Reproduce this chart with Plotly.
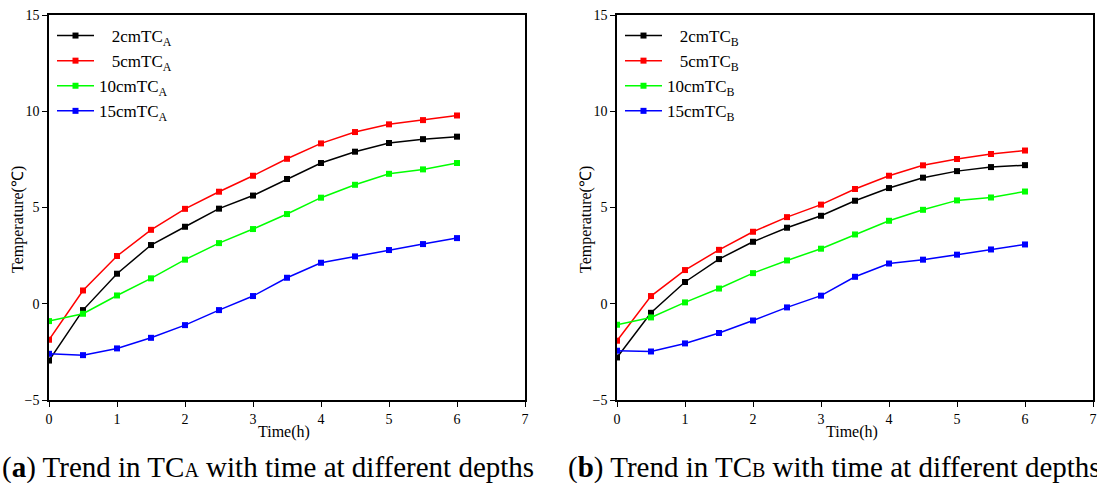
import plotly.graph_objects as go

# Sampling times (h)
time_h = [0, 0.5, 1, 1.5, 2, 2.5, 3, 3.5, 4, 4.5, 5, 5.5, 6]

# Thermocouple group A temperatures (°C)
tc_a_2cm = [-2.95, -0.33, 1.56, 3.05, 4.0, 4.94, 5.62, 6.48, 7.31, 7.9, 8.35, 8.55, 8.68]
tc_a_5cm = [-1.87, 0.69, 2.48, 3.84, 4.93, 5.82, 6.65, 7.53, 8.33, 8.92, 9.32, 9.54, 9.78]
tc_a_10cm = [-0.9, -0.52, 0.43, 1.32, 2.29, 3.15, 3.88, 4.66, 5.51, 6.18, 6.75, 6.98, 7.31]
tc_a_15cm = [-2.6, -2.67, -2.32, -1.77, -1.11, -0.33, 0.4, 1.35, 2.13, 2.46, 2.79, 3.1, 3.41]

# Thermocouple group B temperatures (°C)
tc_b_2cm = [-2.79, -0.47, 1.13, 2.32, 3.22, 3.95, 4.57, 5.35, 6.01, 6.55, 6.89, 7.1, 7.2]
tc_b_5cm = [-1.92, 0.4, 1.75, 2.8, 3.74, 4.5, 5.15, 5.96, 6.65, 7.19, 7.52, 7.78, 7.96]
tc_b_10cm = [-1.09, -0.71, 0.07, 0.79, 1.59, 2.25, 2.86, 3.6, 4.31, 4.88, 5.37, 5.52, 5.83]
tc_b_15cm = [-2.44, -2.48, -2.06, -1.52, -0.87, -0.19, 0.42, 1.4, 2.09, 2.29, 2.55, 2.82, 3.08]

depth_labels = ["\u00a0\u00a0\u00a02cm", "\u00a0\u00a0\u00a05cm", "10cm", "15cm"]
colors = ["#000000", "#ff0000", "#00ff00", "#0000ff"]

SERIF = "Liberation Serif"

fig = go.Figure()

groups = [
    ("A", [tc_a_2cm, tc_a_5cm, tc_a_10cm, tc_a_15cm], "x", "y", "legend"),
    ("B", [tc_b_2cm, tc_b_5cm, tc_b_10cm, tc_b_15cm], "x2", "y2", "legend2"),
]

for suffix, series, xa, ya, lg in groups:
    for label, vals, col in zip(depth_labels, series, colors):
        fig.add_trace(go.Scatter(
            x=time_h, y=vals, mode="lines+markers",
            name=f"{label}TC<sub>{suffix}</sub>",
            line=dict(color=col, width=1.5),
            marker=dict(symbol="square", size=6, color=col),
            xaxis=xa, yaxis=ya, legend=lg,
        ))

W, H = 1097, 483
y_dom = [1 - 400 / H, 1 - 15 / H]
x_doms = [[49 / W, 525 / W], [617 / W, 1093 / W]]

axis_common = dict(
    showline=True, linecolor="black", linewidth=1.5, mirror=True,
    ticks="outside", ticklen=5, tickcolor="black", tickwidth=1,
    showgrid=False, zeroline=False, automargin=False,
    tickfont=dict(family=SERIF, size=14, color="black"),
)

xaxis_cfg = dict(axis_common, range=[0, 7], tickvals=[0, 1, 2, 3, 4, 5, 6, 7])
yaxis_cfg = dict(axis_common, range=[-5, 15], tickvals=[-5, 0, 5, 10, 15])

legend_cfg = dict(
    bgcolor="rgba(0,0,0,0)", borderwidth=0,
    font=dict(family=SERIF, size=17, color="black"),
    xanchor="left", yanchor="top", tracegroupgap=0, itemwidth=37,
)

fig.update_layout(
    width=W, height=H,
    margin=dict(l=0, r=0, t=0, b=0, autoexpand=False),
    paper_bgcolor="white", plot_bgcolor="white",
    xaxis=dict(xaxis_cfg, domain=x_doms[0], anchor="y"),
    yaxis=dict(yaxis_cfg, domain=y_dom, anchor="x"),
    xaxis2=dict(xaxis_cfg, domain=x_doms[1], anchor="y2"),
    yaxis2=dict(yaxis_cfg, domain=y_dom, anchor="x2"),
    legend=dict(legend_cfg, x=52 / W, y=1 - 18 / H),
    legend2=dict(legend_cfg, x=620 / W, y=1 - 18 / H),
    showlegend=True,
)

# Axis titles
title_font = dict(family=SERIF, size=16, color="black")
for dom in x_doms:
    fig.add_annotation(
        text="Time(h)", x=(dom[0] + dom[1]) / 2 - 3 / W, y=1 - 432 / H,
        xref="paper", yref="paper", xanchor="center", yanchor="middle",
        showarrow=False, font=title_font,
    )
    fig.add_annotation(
        text="Temperature(\u2103)", x=dom[0] - 31 / W, y=1 - 220 / H,
        xref="paper", yref="paper", xanchor="center", yanchor="middle",
        textangle=-90, showarrow=False, font=title_font,
    )

# Panel captions
caption_font = dict(family=SERIF, size=29, color="black")
fig.add_annotation(
    text="(<b>a</b>) Trend in TC<span style='font-size:20px'>A</span> with time at different depths",
    x=0, y=0, xref="paper", yref="paper", xanchor="left", yanchor="bottom",
    yshift=-3, showarrow=False, font=caption_font,
)
fig.add_annotation(
    text="(<b>b</b>) Trend in TC<span style='font-size:20px'>B</span> with time at different depths",
    x=566 / W, y=0, xref="paper", yref="paper", xanchor="left", yanchor="bottom",
    yshift=-3, showarrow=False, font=caption_font,
)

fig.write_html("out.html")
